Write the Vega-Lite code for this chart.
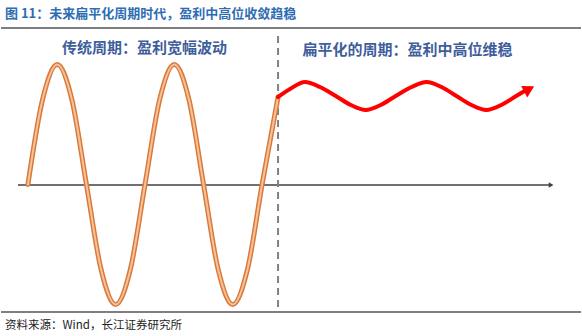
{
  "$schema": "https://vega.github.io/schema/vega-lite/v6.json",
  "width": 582,
  "height": 336,
  "autosize": {"type": "fit", "contains": "padding"},
  "padding": 0,
  "background": "white",
  "config": {"view": {"stroke": null}},
  "datasets": {
    "orange": [
      {"x": 27, "y": 184.5}, {"x": 41.7, "y": 99.6}, {"x": 56.4, "y": 64.5}, {"x": 71.1, "y": 99.6},
      {"x": 85.75, "y": 184.5}, {"x": 100.4, "y": 269.4}, {"x": 115.1, "y": 304.5}, {"x": 129.8, "y": 269.4},
      {"x": 144.5, "y": 184.5}, {"x": 159.2, "y": 99.6}, {"x": 173.9, "y": 64.5}, {"x": 188.6, "y": 99.6},
      {"x": 203.25, "y": 184.5}, {"x": 217.9, "y": 269.4}, {"x": 232.6, "y": 304.5}, {"x": 247.3, "y": 269.4},
      {"x": 262, "y": 184.5}, {"x": 278, "y": 97}
    ],
    "red": [
      {"x": 278, "y": 97}, {"x": 290, "y": 89}, {"x": 305, "y": 82}, {"x": 320, "y": 87},
      {"x": 336, "y": 96}, {"x": 351, "y": 105}, {"x": 366, "y": 110}, {"x": 381, "y": 105},
      {"x": 396, "y": 96}, {"x": 412, "y": 87}, {"x": 427, "y": 82}, {"x": 442, "y": 87},
      {"x": 457, "y": 96}, {"x": 472, "y": 105}, {"x": 487, "y": 110}, {"x": 502, "y": 105},
      {"x": 517, "y": 96}, {"x": 527, "y": 90}
    ],
    "axisline": [{"x": 17, "y": 185}, {"x": 551, "y": 185}],
    "dash": [{"x": 278, "y": 36}, {"x": 278, "y": 311}],
    "frame": [{"x1": 0, "x2": 582, "y": 28}, {"x1": 0, "x2": 582, "y": 312}],
    "labels": [
      {"t": "传统周期：盈利宽幅波动", "x": 144, "y": 48},
      {"t": "扁平化的周期：盈利中高位维稳", "x": 408, "y": 50}
    ],
    "title": [{"t": "图 11：未来扁平化周期时代，盈利中高位收敛趋稳", "x": 4, "y": 14}],
    "source": [{"t": "资料来源：Wind，长江证券研究所", "x": 4, "y": 326}]
  },
  "layer": [
    {
      "data": {"name": "frame"},
      "mark": {"type": "rule", "color": "#000000", "strokeWidth": 1.2},
      "encoding": {
        "x": {"field": "x1", "type": "quantitative", "scale": {"domain": [0, 582]}, "axis": null},
        "x2": {"field": "x2"},
        "y": {"field": "y", "type": "quantitative", "scale": {"domain": [0, 336], "reverse": true}, "axis": null}
      }
    },
    {
      "data": {"name": "axisline"},
      "mark": {"type": "line", "color": "#404040", "strokeWidth": 1.6},
      "encoding": {
        "x": {"field": "x", "type": "quantitative", "scale": {"domain": [0, 582]}, "axis": null},
        "y": {"field": "y", "type": "quantitative", "scale": {"domain": [0, 336], "reverse": true}, "axis": null}
      }
    },
    {
      "data": {"values": [{"x": 552, "y": 185}]},
      "mark": {"type": "point", "shape": "triangle-right", "filled": true, "color": "#404040", "size": 30, "opacity": 1},
      "encoding": {
        "x": {"field": "x", "type": "quantitative", "scale": {"domain": [0, 582]}, "axis": null},
        "y": {"field": "y", "type": "quantitative", "scale": {"domain": [0, 336], "reverse": true}, "axis": null}
      }
    },
    {
      "data": {"name": "dash"},
      "mark": {"type": "line", "color": "#808080", "strokeWidth": 2, "strokeDash": [7, 5]},
      "encoding": {
        "x": {"field": "x", "type": "quantitative", "scale": {"domain": [0, 582]}, "axis": null},
        "y": {"field": "y", "type": "quantitative", "scale": {"domain": [0, 336], "reverse": true}, "axis": null}
      }
    },
    {
      "data": {"name": "orange"},
      "mark": {"type": "line", "color": "#D97A3A", "strokeWidth": 5, "interpolate": "monotone", "strokeCap": "round"},
      "encoding": {
        "x": {"field": "x", "type": "quantitative", "scale": {"domain": [0, 582]}, "axis": null},
        "y": {"field": "y", "type": "quantitative", "scale": {"domain": [0, 336], "reverse": true}, "axis": null}
      }
    },
    {
      "data": {"name": "orange"},
      "mark": {"type": "line", "color": "#F6C29A", "strokeWidth": 2, "interpolate": "monotone", "strokeCap": "round"},
      "encoding": {
        "x": {"field": "x", "type": "quantitative", "scale": {"domain": [0, 582]}, "axis": null},
        "y": {"field": "y", "type": "quantitative", "scale": {"domain": [0, 336], "reverse": true}, "axis": null}
      }
    },
    {
      "data": {"name": "red"},
      "mark": {"type": "line", "color": "#FF0000", "strokeWidth": 4, "interpolate": "monotone", "strokeCap": "round"},
      "encoding": {
        "x": {"field": "x", "type": "quantitative", "scale": {"domain": [0, 582]}, "axis": null},
        "y": {"field": "y", "type": "quantitative", "scale": {"domain": [0, 336], "reverse": true}, "axis": null}
      }
    },
    {
      "data": {"values": [{"x": 530, "y": 89}]},
      "mark": {"type": "point", "shape": "triangle-right", "filled": true, "color": "#FF0000", "size": 170, "angle": 332, "opacity": 1},
      "encoding": {
        "x": {"field": "x", "type": "quantitative", "scale": {"domain": [0, 582]}, "axis": null},
        "y": {"field": "y", "type": "quantitative", "scale": {"domain": [0, 336], "reverse": true}, "axis": null}
      }
    },
    {
      "data": {"name": "labels"},
      "mark": {"type": "text", "font": "Noto Sans CJK SC", "fontSize": 15, "fontWeight": "bold", "color": "#3F5E9C", "align": "center", "baseline": "middle"},
      "encoding": {
        "x": {"field": "x", "type": "quantitative", "scale": {"domain": [0, 582]}, "axis": null},
        "y": {"field": "y", "type": "quantitative", "scale": {"domain": [0, 336], "reverse": true}, "axis": null},
        "text": {"field": "t"}
      }
    },
    {
      "data": {"name": "title"},
      "mark": {"type": "text", "font": "Noto Sans CJK SC", "fontSize": 13, "fontWeight": "bold", "color": "#2F6DB3", "align": "left", "baseline": "middle"},
      "encoding": {
        "x": {"field": "x", "type": "quantitative", "scale": {"domain": [0, 582]}, "axis": null},
        "y": {"field": "y", "type": "quantitative", "scale": {"domain": [0, 336], "reverse": true}, "axis": null},
        "text": {"field": "t"}
      }
    },
    {
      "data": {"name": "source"},
      "mark": {"type": "text", "font": "Noto Sans CJK SC", "fontSize": 11.5, "color": "#222222", "align": "left", "baseline": "middle"},
      "encoding": {
        "x": {"field": "x", "type": "quantitative", "scale": {"domain": [0, 582]}, "axis": null},
        "y": {"field": "y", "type": "quantitative", "scale": {"domain": [0, 336], "reverse": true}, "axis": null},
        "text": {"field": "t"}
      }
    }
  ]
}
